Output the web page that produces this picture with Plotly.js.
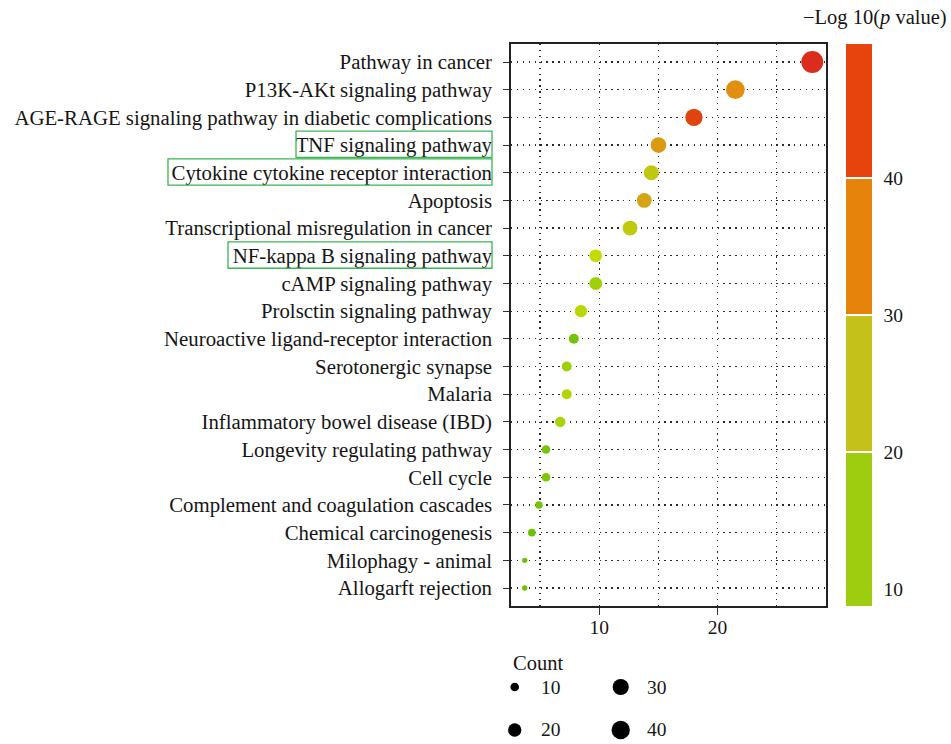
<!DOCTYPE html>
<html><head><meta charset="utf-8">
<script src="https://cdn.plot.ly/plotly-3.0.1.min.js"></script>
<style>html,body{margin:0;padding:0;background:#fff;} #chart{width:951px;height:744px;}</style>
</head><body><div id="chart"></div>
<script>
// ---------- data ----------
const pathways = ["Pathway in cancer", "P13K-AKt signaling pathway",
  "AGE-RAGE signaling pathway in diabetic complications", "TNF signaling pathway",
  "Cytokine cytokine receptor interaction", "Apoptosis",
  "Transcriptional misregulation in cancer", "NF-kappa B signaling pathway",
  "cAMP signaling pathway", "Prolsctin signaling pathway",
  "Neuroactive ligand-receptor interaction", "Serotonergic synapse", "Malaria",
  "Inflammatory bowel disease (IBD)", "Longevity regulating pathway", "Cell cycle",
  "Complement and coagulation cascades", "Chemical carcinogenesis",
  "Milophagy - animal", "Allogarft rejection"];
const ratio  = [28.0, 21.5, 18.0, 15.0, 14.4, 13.8, 12.6, 9.7, 9.7, 8.45,
                7.85, 7.25, 7.25, 6.7, 5.5, 5.5, 4.9, 4.3, 3.7, 3.7];
const counts = [60, 42, 35, 28, 26, 25, 25, 18, 19, 17,
                12, 12, 12, 13, 10, 10, 9, 9, 8, 8];
const logP   = [48.5, 35, 44, 33, 26, 31, 25.5, 21, 16, 19.5,
                11, 16, 18.5, 17.5, 11.5, 12, 11, 10, 10.5, 10.5];
const sizeLegend = [10, 20, 30, 40];
const colorTicks = [10, 20, 30, 40];
const highlighted = ["TNF signaling pathway", "Cytokine cytokine receptor interaction", "NF-kappa B signaling pathway"];

// ---------- styles ----------
const FONT = "Liberation Serif, 'Times New Roman', serif";
const INK = '#151515';
const cmin = 8.76, cmax = 49.8;
const gradStops = [[cmin,'#62BC05'],[10,'#6CC006'],[15,'#98CE0A'],[21,'#C4DA00'],[26,'#BFC80E'],
                   [31,'#D4A416'],[35,'#E38E0E'],[44,'#E0440E'],[cmax,'#DA261F']];
const bandColors = ['#9DCD0E','#C4C11A','#E6830A','#E6430D'];
const norm = v => (v - cmin) / (cmax - cmin);
const gradScale = gradStops.map(s => [norm(s[0]), s[1]]);
// stepped scale for the colour bar, with thin white separators at the bin edges
const bandScale = [];
const edges = colorTicks.slice(1);
const eps = 0.0013;
bandScale.push([0, bandColors[0]]);
edges.forEach((e, i) => {
  const p = norm(e);
  bandScale.push([p - eps, bandColors[i]]);
  bandScale.push([p - eps, '#ffffff']);
  bandScale.push([p + eps, '#ffffff']);
  bandScale.push([p + eps, bandColors[i + 1]]);
});
bandScale.push([1, bandColors[bandColors.length - 1]]);

const dLo = 5.3, dHi = 22;
const cLo = Math.min(...counts), cHi = Math.max(...counts);
const sizeOf = c => dLo + (dHi - dLo) * Math.sqrt(Math.max(0, (c - cLo) / (cHi - cLo)));

const dotGrid = {gridcolor:'#2a2a2a', gridwidth:1.3, griddash:'1.3px,4.6px'};

// ---------- traces ----------
const main = {
  type:'scatter', mode:'markers', x: ratio, y: pathways, xaxis:'x', yaxis:'y',
  marker:{size: counts.map(sizeOf), color: logP, colorscale: gradScale, cmin, cmax,
          showscale:false, line:{width:0}, opacity:1},
  hoverinfo:'skip', showlegend:false
};
const barTrace = {
  type:'scatter', mode:'markers', x: ratio, y: pathways, xaxis:'x', yaxis:'y',
  marker:{size:1, opacity:0, color: logP, colorscale: bandScale, cmin, cmax, showscale:true,
    colorbar:{x:1.0635, xanchor:'left', xref:'paper', y:0.593, yanchor:'middle', len:0.814,
      thickness:26, xpad:0, ypad:0, outlinewidth:0,
      tickmode:'array', tickvals: colorTicks, ticktext: colorTicks.map(String),
      ticks:'outside', ticklen:8, tickcolor:'rgba(0,0,0,0)',
      tickfont:{family:FONT, size:19.5, color:INK}}},
  hoverinfo:'skip', showlegend:false
};
const legendTrace = {
  type:'scatter', mode:'markers', xaxis:'x2', yaxis:'y2', cliponaxis:false,
  x: sizeLegend.map((_, i) => Math.floor(i / 2)),
  y: sizeLegend.map((_, i) => i % 2),
  marker:{size: sizeLegend.map(sizeOf), color:'#000000', opacity:1, line:{width:0}},
  hoverinfo:'skip', showlegend:false
};

// ---------- annotations & shapes ----------
const annotations = sizeLegend.map((c, i) => ({
  xref:'x2', yref:'y2', x: Math.floor(i / 2), y: i % 2, xshift: 24, xanchor:'left', yanchor:'middle',
  text: String(c), showarrow:false, font:{family:FONT, size:19.5, color:INK}
}));
annotations.push({xref:'paper', yref:'y2', x:0, y:-0.56, xanchor:'left', yanchor:'middle',
  text:'Count', showarrow:false, font:{family:FONT, size:20.5, color:INK}});
annotations.push({xref:'paper', yref:'paper', x:1.1556, y:1.0377, xanchor:'center', yanchor:'middle',
  text:'\u2212Log 10(<i>p</i> value)', showarrow:false, font:{family:FONT, size:20.5, color:INK}});

const boxLeft = {"TNF signaling pathway": -0.6825,
                 "Cytokine cytokine receptor interaction": -1.0889,
                 "NF-kappa B signaling pathway": -0.8984};
const shapes = highlighted.map(name => {
  const idx = pathways.indexOf(name);
  return {type:'rect', xref:'paper', yref:'y', x0: boxLeft[name], x1: -0.0603,
          y0: idx - 0.5, y1: idx + 0.45, line:{color:'#3DB554', width:1.3}, fillcolor:'rgba(0,0,0,0)'};
});

const layout = {
  width:951, height:744, margin:{l:511, r:125, t:44, b:10},
  paper_bgcolor:'#fff', plot_bgcolor:'#fff',
  font:{family:FONT, color:INK, size:20},
  showlegend:false,
  xaxis:Object.assign({domain:[0,1], anchor:'y', range:[2.54, 29.16], tick0:0, dtick:10,
    ticks:'outside', ticklen:7, tickcolor:'#333', tickwidth:1, ticklabelstandoff:-4,
    showline:true, mirror:true, linecolor:'#222', linewidth:1.8, zeroline:false, showgrid:true,
    minor:Object.assign({dtick:5, tick0:0, showgrid:true, ticks:''}, dotGrid),
    tickfont:{family:FONT, size:19.5, color:INK}}, dotGrid),
  yaxis:Object.assign({domain:[0.1855,1], anchor:'x', type:'category', categoryorder:'array',
    categoryarray: pathways, range:[pathways.length - 0.35, -0.65],
    ticks:'outside', ticklen:6, tickcolor:'#333', tickwidth:1, ticklabelstandoff:7,
    showline:true, mirror:true, linecolor:'#222', linewidth:1.8, zeroline:false, showgrid:true,
    tickfont:{family:FONT, size:20.8, color:INK}}, dotGrid),
  xaxis2:{domain:[0,0.6], anchor:'y2', range:[-0.035, 1.748], visible:false, fixedrange:true},
  yaxis2:{domain:[0,0.1217], anchor:'x2', range:[1.093, -0.86], visible:false, fixedrange:true},
  annotations, shapes
};

Plotly.newPlot('chart', [main, barTrace, legendTrace], layout, {staticPlot:true, displayModeBar:false});
</script>
</body></html>
